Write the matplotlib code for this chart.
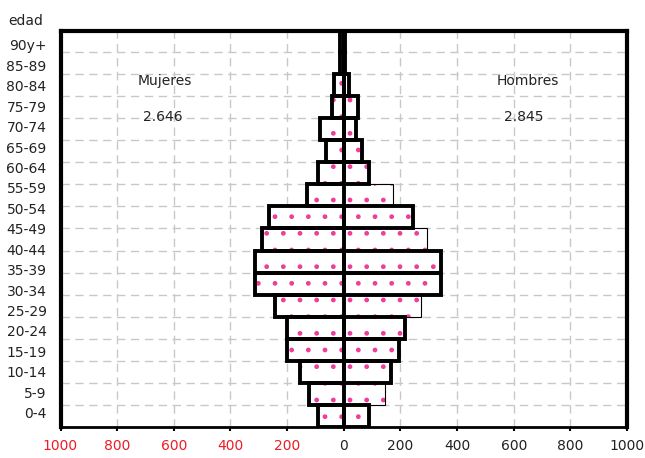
import numpy as np
import matplotlib.pyplot as plt

# age labels on the left (top to bottom as in the chart)
age_labels = ["90y+", "85-89", "80-84", "75-79", "70-74", "65-69", "60-64",
              "55-59", "50-54", "45-49", "40-44", "35-39", "30-34", "25-29",
              "20-24", "15-19", "10-14", "5-9", "0-4"]

# bar rows from the bottom up
mujeres = [90, 124, 154, 201, 201, 244, 315, 315, 288, 265, 131, 90, 61, 84, 43, 36, 15, 15]
hombres = [90, 144, 167, 195, 216, 273, 344, 344, 294, 244, 173, 90, 66, 43, 49, 20, 6, 6]
hombres_thick = [1, 0, 1, 1, 1, 0, 1, 1, 0, 1, 0, 1, 1, 1, 1, 1, 1, 1]

total_mujeres = "2.646"
total_hombres = "2.845"

xticks = np.arange(-1000, 1001, 200)

pink = "#f03c9a"
W, H = 645, 458
fig = plt.figure(figsize=(W / 100, H / 100), dpi=100)
ax = fig.add_axes([60.5 / W, 1 - 427 / H, (627 - 60.5) / W, (427 - 31) / H])

y = np.arange(len(mujeres))
women = -np.array(mujeres)
men = np.array(hombres)
thick = np.array(hombres_thick, dtype=bool)

# grid
for v in xticks[1:-1]:
    ax.axvline(v, color="#c8c8c8", lw=1.0, ls=(0, (6, 4)), zorder=0)
for b in y[:-1] + 0.5:
    ax.axhline(b, color="#c8c8c8", lw=1.0, ls=(0, (6, 4)), zorder=0)

# white bars with pink dot pattern
ax.barh(y, women, height=1, color="white", edgecolor=pink, hatch=".", lw=0, zorder=1)
ax.barh(y, men, height=1, color="white", edgecolor=pink, hatch=".", lw=0, zorder=1)

# outlines
ax.barh(y[~thick], men[~thick], height=1, fill=False, edgecolor="black", lw=0.8, zorder=2)
ax.barh(y[thick], men[thick], height=1, fill=False, edgecolor="black", lw=2.8, zorder=3)
ax.barh(y, women, height=1, fill=False, edgecolor="black", lw=2.8, zorder=3)

ax.set_xlim(-1000, 1000)
ax.set_ylim(-0.5, 17.45)

ax.set_xticks(xticks)
ax.set_xticklabels([str(abs(v)) for v in xticks])
for lab, v in zip(ax.get_xticklabels(), xticks):
    lab.set_color("#ee1c25" if v < 0 else "#222222")
ax.tick_params(axis="x", direction="out", length=3, width=1.5, pad=6, labelsize=10)

ax.set_yticks(np.linspace(16.82, 0.15, len(age_labels)))
ax.set_yticklabels(age_labels)
ax.tick_params(axis="y", length=0, pad=10, labelsize=10, labelcolor="#222222")

for s in ["left", "top", "right"]:
    ax.spines[s].set_linewidth(3)
ax.spines["bottom"].set_linewidth(2)

fig.text(26 / W, 1 - 20.7 / H, "edad", ha="center", va="center", fontsize=10, color="#222222")
ax.text(-630, 15.2, "Mujeres", ha="center", va="center", fontsize=10, color="#222222")
ax.text(-638, 13.55, total_mujeres, ha="center", va="center", fontsize=10, color="#222222")
ax.text(650, 15.2, "Hombres", ha="center", va="center", fontsize=10, color="#222222")
ax.text(636, 13.55, total_hombres, ha="center", va="center", fontsize=10, color="#222222")

fig.savefig("out.png", dpi=100)
